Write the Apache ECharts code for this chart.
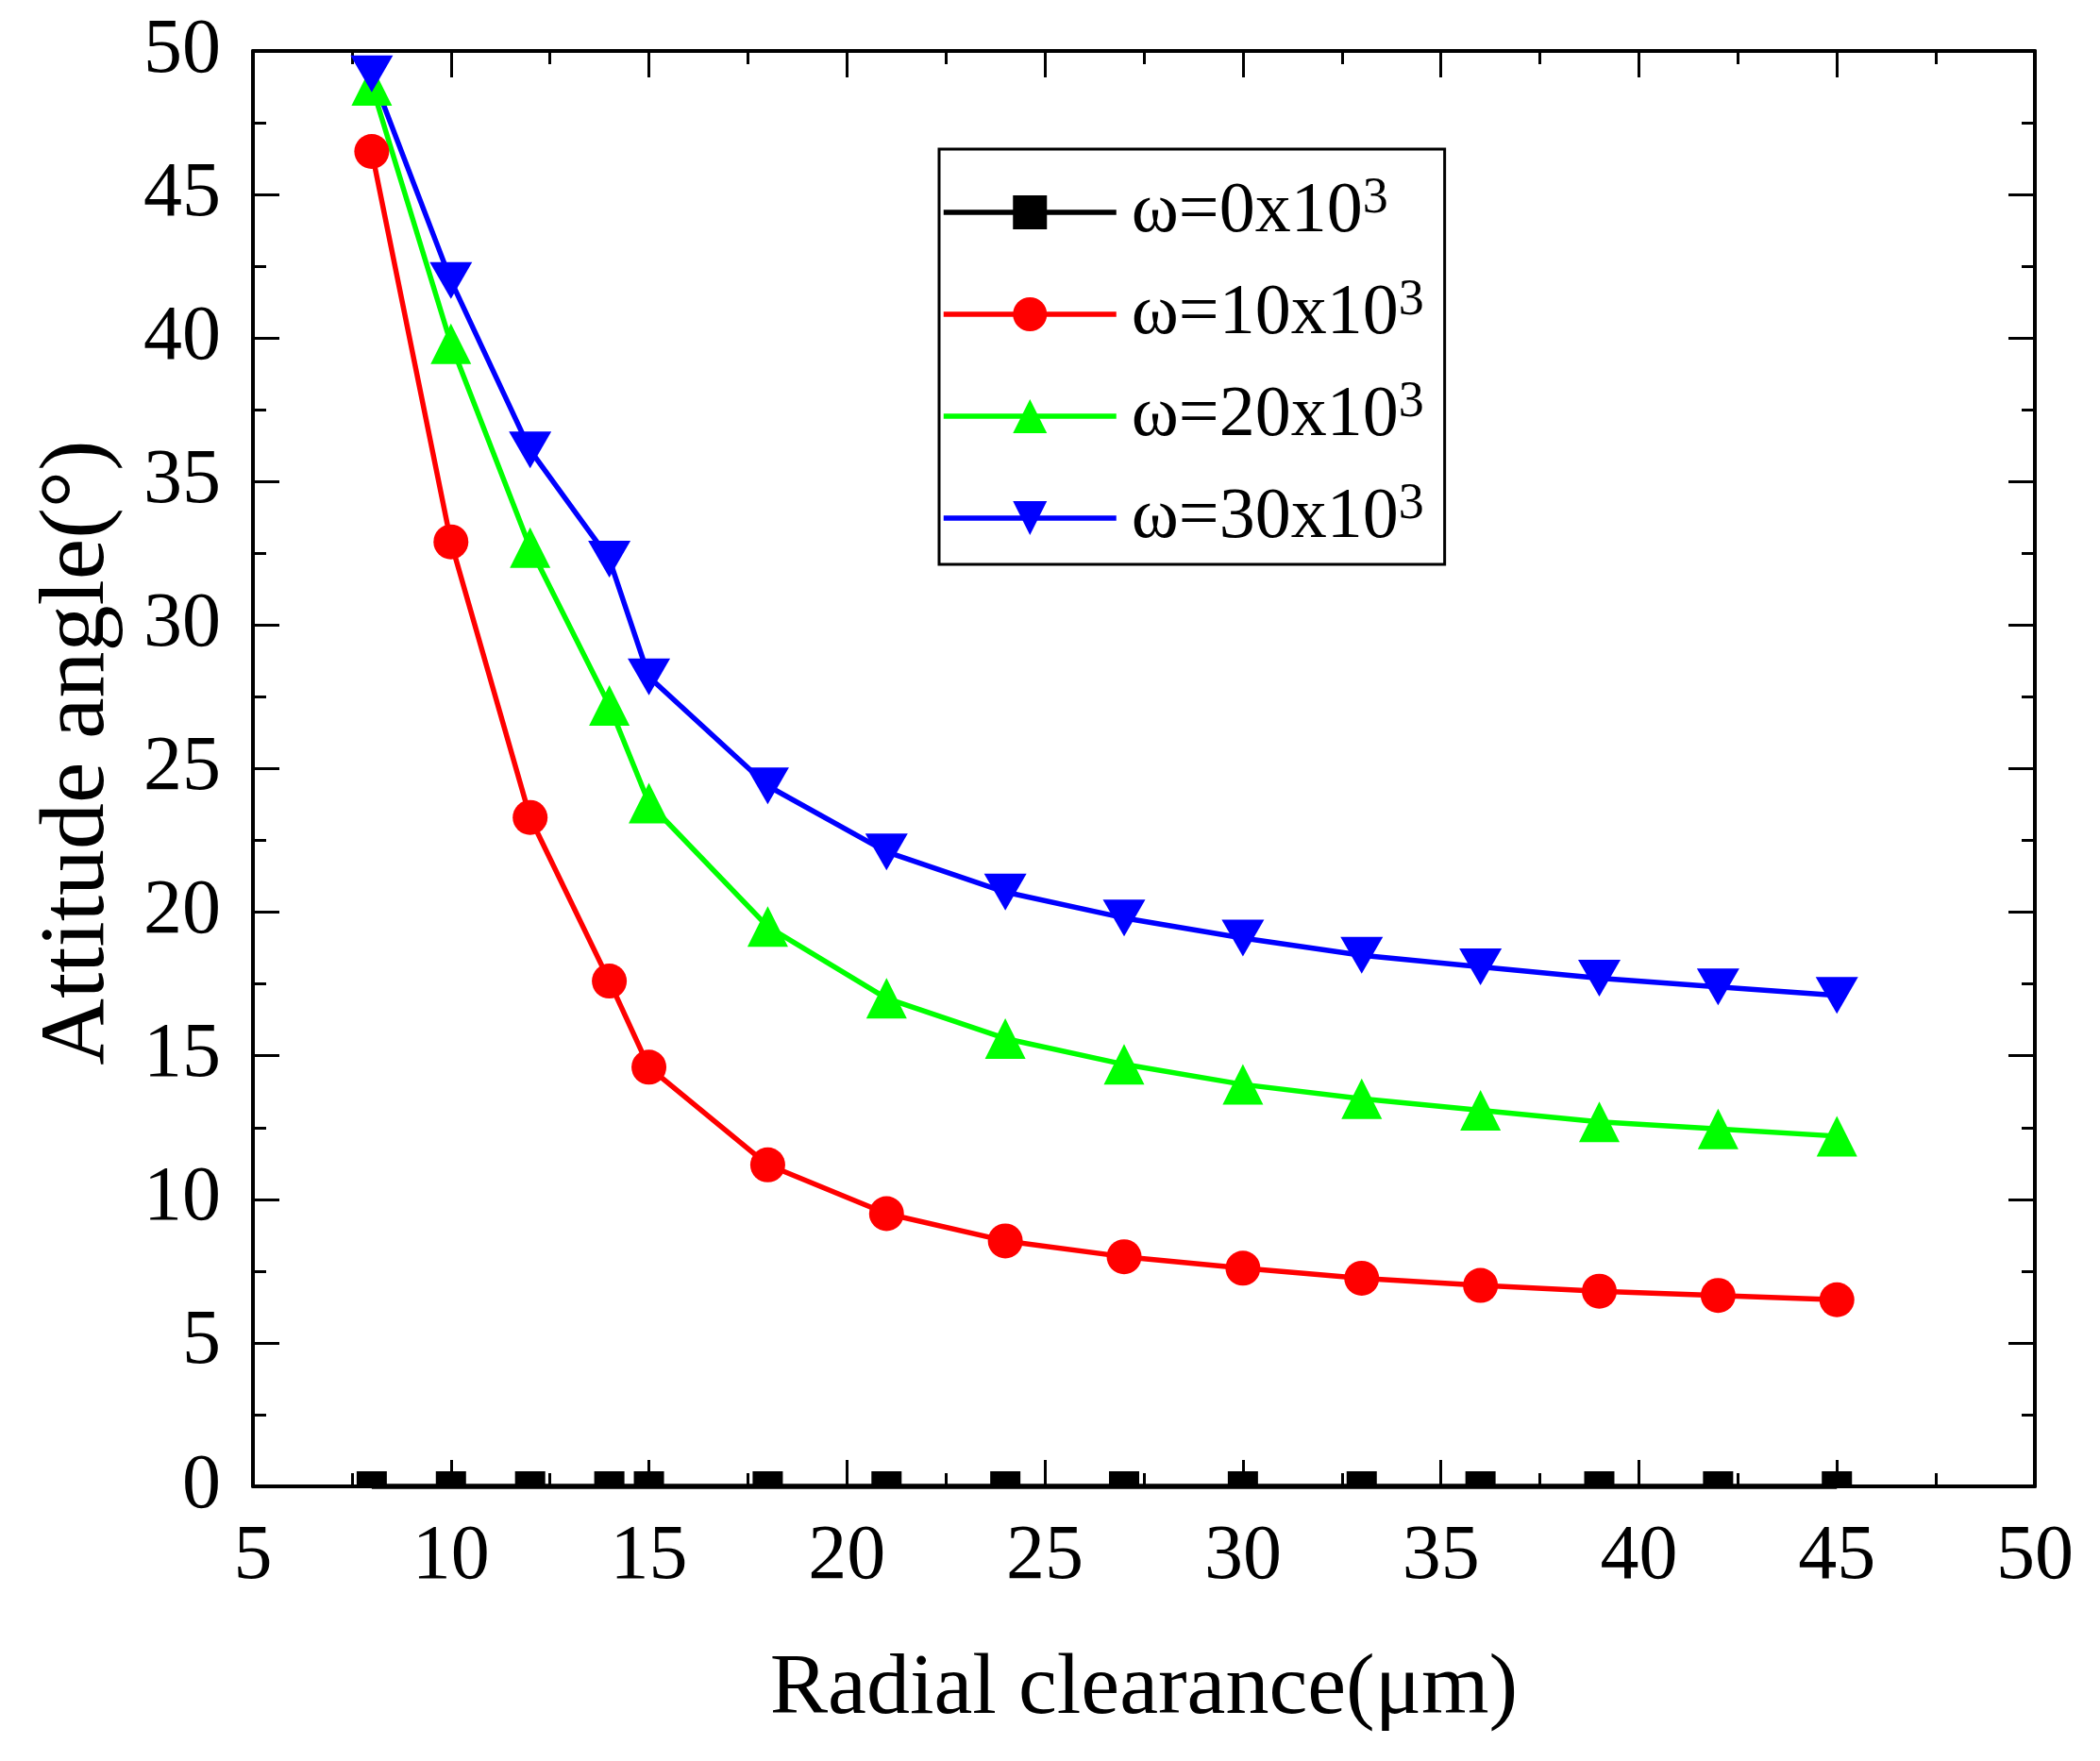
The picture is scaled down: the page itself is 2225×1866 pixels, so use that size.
<!DOCTYPE html>
<html>
<head>
<meta charset="utf-8">
<title>Attitude angle vs radial clearance</title>
<script src="https://cdn.jsdelivr.net/npm/echarts@6/dist/echarts.min.js"></script>
<style>
  html, body { margin: 0; padding: 0; background: #fff; }
  #chart { width: 2225px; height: 1866px; }
</style>
</head>
<body>
<div id="chart"></div>
<script>
// radial clearance (um)
var clearance = [8, 10, 12, 14, 15, 18, 21, 24, 27, 30, 33, 36, 39, 42, 45];
// attitude angle (deg) for each rotation speed
var angle0  = [0, 0, 0, 0, 0, 0, 0, 0, 0, 0, 0, 0, 0, 0, 0];
var angle10 = [46.5, 32.9, 23.3, 17.6, 14.6, 11.2, 9.5, 8.55, 8.0, 7.6, 7.25, 7.0, 6.8, 6.65, 6.5];
var angle20 = [48.8, 39.8, 32.7, 27.2, 23.8, 19.5, 17.0, 15.6, 14.7, 14.0, 13.5, 13.1, 12.7, 12.45, 12.2];
var angle30 = [49.2, 42.0, 36.1, 32.3, 28.2, 24.4, 22.1, 20.7, 19.8, 19.1, 18.5, 18.1, 17.7, 17.4, 17.1];
var seriesNames = ['ω=0x10^3', 'ω=10x10^3', 'ω=20x10^3', 'ω=30x10^3'];
var xTicks = { min: 5, max: 50, step: 5 };
var yTicks = { min: 0, max: 50, step: 5 };

var FONT = '"Liberation Serif", "Times New Roman", serif';
var downTri = 'path://M0,0 L10,0 L5,8.7 Z';

function pairs(ys) {
  var out = [];
  for (var i = 0; i < clearance.length; i++) {
    out.push([clearance[i], ys[i]]);
  }
  return out;
}

// shared look for the four frame axes
function frameAxis(extra, showLabel) {
  var a = {
    type: 'value',
    axisLine: { show: true, onZero: false, lineStyle: { color: '#000', width: 4 } },
    axisTick: { show: true, inside: true, length: 28, lineStyle: { color: '#000', width: 3 } },
    minorTick: { show: true, splitNumber: 2, length: 14, lineStyle: { color: '#000', width: 3 } },
    splitLine: { show: false },
    minorSplitLine: { show: false },
    axisLabel: { show: showLabel, color: '#000', fontFamily: FONT, fontSize: 82, margin: 34 }
  };
  for (var k in extra) { a[k] = extra[k]; }
  return a;
}

function lineSeries(name, ys, color, symbol, size, extra) {
  var s = {
    name: name,
    type: 'line',
    data: pairs(ys),
    symbol: symbol,
    symbolSize: size,
    showAllSymbol: true,
    clip: false,
    lineStyle: { color: color, width: 5.5 },
    itemStyle: { color: color },
    emphasis: { disabled: true },
    z: 3
  };
  for (var k in extra) { s[k] = extra[k]; }
  return s;
}

var chart = echarts.init(document.getElementById('chart'), null, { renderer: 'canvas' });

var option = {
  backgroundColor: '#fff',
  animation: false,
  grid: { left: 268, right: 69, top: 54, bottom: 291, containLabel: false },
  xAxis: [
    frameAxis({
      position: 'bottom', min: xTicks.min, max: xTicks.max, interval: xTicks.step,
      name: 'Radial clearance(μm)', nameLocation: 'middle', nameGap: 170,
      nameTextStyle: { color: '#000', fontFamily: FONT, fontSize: 92 }
    }, true),
    frameAxis({ position: 'top', min: xTicks.min, max: xTicks.max, interval: xTicks.step }, false)
  ],
  yAxis: [
    frameAxis({
      position: 'left', min: yTicks.min, max: yTicks.max, interval: yTicks.step,
      name: 'Attitude angle(°)', nameLocation: 'middle', nameGap: 136,
      nameTextStyle: { color: '#000', fontFamily: FONT, fontSize: 98, padding: [0, 0, 0, 34] }
    }, true),
    frameAxis({ position: 'right', min: yTicks.min, max: yTicks.max, interval: yTicks.step }, false)
  ],
  legend: {
    orient: 'vertical',
    left: 995,
    top: 158,
    padding: [26, 22, 11, 2],
    itemWidth: 183,
    itemHeight: 45,
    itemGap: 29,
    borderColor: '#000',
    borderWidth: 3,
    backgroundColor: '#fff',
    lineStyle: { width: 5.5 },
    data: seriesNames,
    formatter: function (name) {
      var parts = name.split('^');
      return '{b|' + parts[0] + '}{sup|' + parts[1] + '}';
    },
    textStyle: {
      padding: [0, 0, 0, 11],
      rich: {
        b: { fontFamily: FONT, fontSize: 76, lineHeight: 82, color: '#000' },
        sup: { fontFamily: FONT, fontSize: 54, lineHeight: 20, verticalAlign: 'top', color: '#000' }
      }
    }
  },
  series: [
    // squares sit on the frame, only the upper half shows in the original
    lineSeries(seriesNames[0], angle0, '#000', 'rect', [32, 16], { symbolOffset: [0, -8] }),
    lineSeries(seriesNames[1], angle10, '#ff0000', 'circle', 37),
    lineSeries(seriesNames[2], angle20, '#00ff00', 'triangle', 43),
    lineSeries(seriesNames[3], angle30, '#0000ff', downTri, [45, 39])
  ]
};

chart.setOption(option);
</script>
</body>
</html>
